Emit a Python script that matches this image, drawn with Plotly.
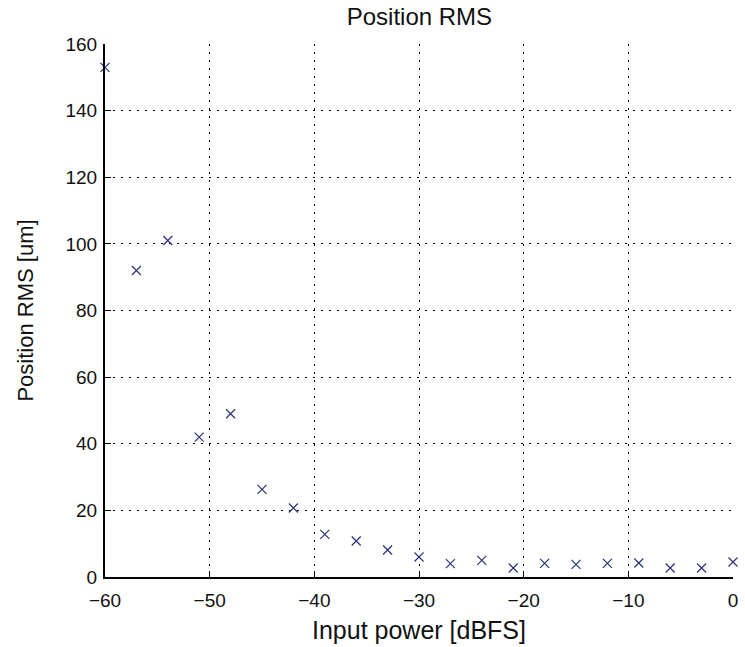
import plotly.graph_objects as go

input_power = [-60, -57, -54, -51, -48, -45, -42, -39, -36, -33, -30,
               -27, -24, -21, -18, -15, -12, -9, -6, -3, 0]
position_rms = [153, 92, 101, 42, 49, 26.3, 20.7, 12.8, 10.8, 8.1, 6.0,
                4.0, 5.0, 2.7, 4.1, 3.8, 4.1, 4.2, 2.7, 2.7, 4.5]

x_ticks = [-60, -50, -40, -30, -20, -10, 0]
y_ticks = [0, 20, 40, 60, 80, 100, 120, 140, 160]

font_family = "Liberation Sans, Arial, sans-serif"

fig = go.Figure()
fig.add_trace(go.Scatter(
    x=input_power, y=position_rms, mode="markers",
    marker=dict(symbol="x-thin", size=9, line=dict(color="#2f2f7a", width=1.2)),
    cliponaxis=False, showlegend=False,
))

axis_common = dict(
    showgrid=True, gridcolor="black", griddash="1.5px,6.5px", gridwidth=1.3,
    showline=True, linecolor="black", linewidth=2,
    ticks="inside", ticklen=6, tickcolor="black", tickwidth=1,
    zeroline=False,
    tickfont=dict(family=font_family, size=19, color="#111111"),
)

fig.update_layout(
    width=745, height=647,
    margin=dict(l=105, r=7, t=44, b=70),
    paper_bgcolor="white", plot_bgcolor="white",
    title=dict(text="Position RMS", x=0.563, xanchor="center", y=0.975, yanchor="middle",
               font=dict(family=font_family, size=24, color="#111111")),
    xaxis=dict(range=[-60, 0], tickvals=x_ticks, ticklabelstandoff=5,
               title=dict(text="Input power [dBFS]", standoff=12,
                          font=dict(family=font_family, size=25, color="#111111")),
               **axis_common),
    yaxis=dict(range=[0, 160], tickvals=y_ticks, ticklabelstandoff=2,
               title=dict(text="Position RMS [um]", standoff=26,
                          font=dict(family=font_family, size=22, color="#111111")),
               **axis_common),
)

fig.write_html("out.html")
